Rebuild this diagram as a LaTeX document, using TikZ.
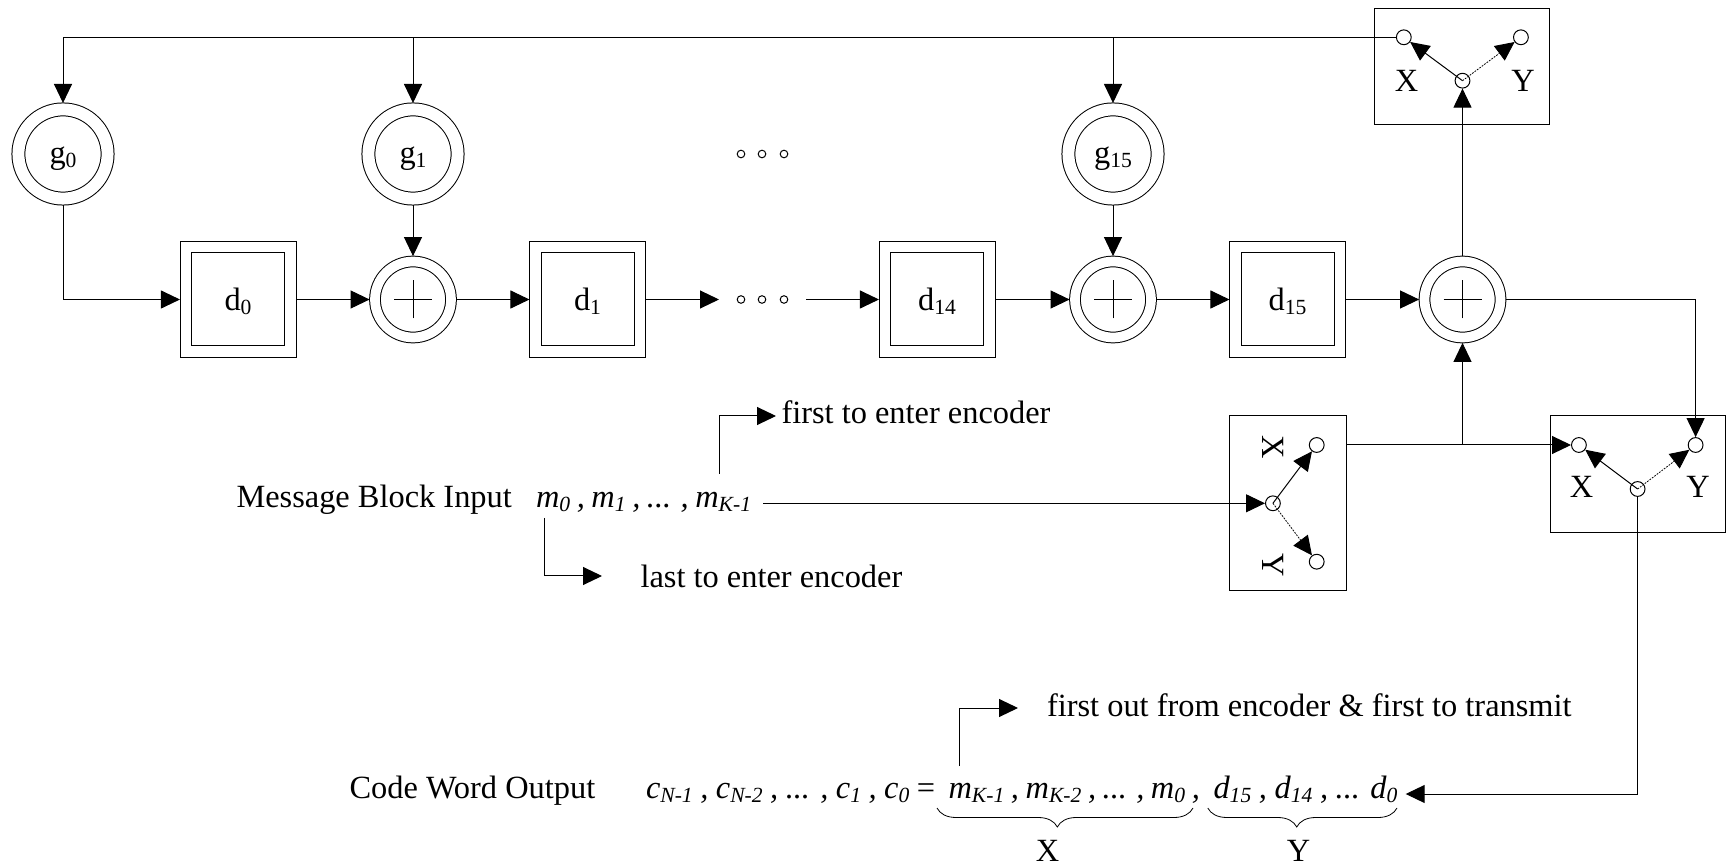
\documentclass[tikz,border=0pt]{standalone}
\usepackage{xcolor}
\usepackage{fontspec}
\setmainfont{Liberation Serif}
\usepackage{tikz}
\usetikzlibrary{arrows.meta, positioning, decorations.pathreplacing}

\newcommand{\idx}[1]{\raisebox{-0.3ex}{\fontsize{10.8}{12}\selectfont #1}}

\begin{document}
\begin{tikzpicture}[
        x=0.5pt, y=-0.5pt,
        line width=0.5pt,
        every node/.style={font=\fontsize{16.2}{19}\selectfont, inner sep=0pt},
        tapnode/.style={circle, draw, double, double distance=5.95pt, outer sep=3.2pt, minimum size=44.6pt, text height=9.5pt, text depth=0pt},
        addnode/.style={circle, draw, double, double distance=4.85pt, outer sep=2.7pt, minimum size=38pt},
        regnode/.style={rectangle, draw, double, double distance=5.25pt, outer sep=2.9pt, minimum size=52.25pt, text height=10.7pt, text depth=0pt},
        pole/.style={circle, draw, minimum size=7.4pt},
        dotmark/.style={circle, draw, minimum size=3.8pt},
        edge/.style={-{Triangle[length=9.5pt, width=9pt]}},
        dottededge/.style={edge, dash pattern=on 0.9pt off 0.6pt, line width=0.4pt},
        caption/.style={anchor=base west},
        bracemark/.style={decorate, decoration={brace, mirror, amplitude=9.5pt, aspect=0.47}, line width=0.4pt}
    ]
        \useasboundingbox (0,0) rectangle (1729,865);

        % Taps
        \node[tapnode] (g0) at (63, 154) {g\idx{0}};
        \node[tapnode] (g1) at (413, 154) {g\idx{1}};
        \node[tapnode] (g15) at (1113, 154) {g\idx{15}};

        % Registers and adders
        \node[regnode] (d0) at (238, 299.5) {d\idx{0}};
        \node[addnode] (add1) at (413, 299.5) {};
        \node[regnode] (d1) at (587.5, 299.5) {d\idx{1}};
        \node[regnode] (d14) at (937, 299.5) {d\idx{14}};
        \node[addnode] (add2) at (1113, 299.5) {};
        \node[regnode] (d15) at (1287.5, 299.5) {d\idx{15}};
        \node[addnode] (add3) at (1462.5, 299.5) {};

        \foreach \a in {add1, add2, add3} {
            \draw[line width=0.4pt] ([xshift=-9.5pt]\a.center) -- ([xshift=9.5pt]\a.center);
            \draw[line width=0.4pt] ([yshift=-9.5pt]\a.center) -- ([yshift=9.5pt]\a.center);
        }

        % Dots
        \node[dotmark] (dotA) at (741, 154) {};
        \node[dotmark] (dotB) at (762, 154) {};
        \node[dotmark] (dotC) at (784, 154) {};
        \node[dotmark] (dotD) at (741, 299.5) {};
        \node[dotmark] (dotE) at (762, 299.5) {};
        \node[dotmark] (dotF) at (784, 299.5) {};
        \coordinate (dotsIn) at (719, 299.5);
        \coordinate (dotsOut) at (806, 299.5);

        % Top switch
        \node[draw, minimum width=87.5pt, minimum height=58.2pt] (swT) at (1462.4, 66.5) {};
        \node[pole] (swTx) at (1403.8, 37.3) {};
        \node[pole] (swTy) at (1520.9, 37.3) {};
        \node[pole] (swTc) at (1462.5, 80.7) {};
        \node[anchor=base] (swTxl) at (1406.5, 91.5) {X};
        \node[anchor=base] (swTyl) at (1523, 91.5) {Y};

        % Left switch
        \node[draw, minimum width=58.3pt, minimum height=87.5pt] (swL) at (1287.7, 503.5) {};
        \node[pole] (swLx) at (1316.7, 445) {};
        \node[pole] (swLy) at (1316.7, 561.7) {};
        \node[pole] (swLc) at (1272.9, 503.3) {};
        \node[rotate=-90] (swLxl) at (1273.5, 447.5) {X};
        \node[rotate=-90] (swLyl) at (1273.5, 565) {Y};

        % Right switch
        \node[draw, minimum width=87.5pt, minimum height=58.3pt] (swR) at (1637.5, 474.3) {};
        \node[pole] (swRx) at (1578.9, 445) {};
        \node[pole] (swRy) at (1695.6, 445) {};
        \node[pole] (swRc) at (1637.6, 489) {};
        \node[anchor=base] (swRxl) at (1581.5, 498) {X};
        \node[anchor=base] (swRyl) at (1698, 498) {Y};

        % Texts
        \node[caption] (msgLabel) at (236, 507.5) {Message Block Input};
        \node[caption] (msgSeq) at (535.5, 507.5) {\itshape\spaceskip=3.3pt m\idx{0} , m\idx{1} , ... , m\idx{K-1}};
        \node[caption] (firstIn) at (781, 424) {first to enter encoder};
        \node[caption] (lastIn) at (640, 587.5) {last to enter encoder};
        \node[caption] (codeLabel) at (349, 798) {Code Word Output};
        \node[caption] (codeSeq) at (645.5, 798) {\itshape\spaceskip=3.75pt c\idx{N-1} , c\idx{N-2} , ... , c\idx{1} , c\idx{0} {\upshape =}};
        \node[caption] (codeMsg) at (948, 798) {\itshape\spaceskip=3.3pt m\idx{K-1} , m\idx{K-2} , ... , m\idx{0} ,};
        \node[caption] (codeRed) at (1213, 798) {\itshape\spaceskip=3.8pt d\idx{15} , d\idx{14} , ... d\idx{0}};
        \node[caption] (firstOut) at (1046.5, 716) {first out from encoder \& first to transmit};
        \node[anchor=base] (xLabel) at (1047.5, 861.7) {X};
        \node[anchor=base] (yLabel) at (1298.6, 861.7) {Y};

        % Free ends
        \coordinate (firstFrom) at (719, 474);
        \coordinate (firstTo) at (776, 416);
        \coordinate (lastFrom) at (544, 518);
        \coordinate (lastTo) at (602, 576);
        \coordinate (msgEnd) at (763, 503.3);
        \coordinate (outFrom) at (959, 766);
        \coordinate (outTo) at (1018, 708);
        \coordinate (codeEnd) at (1405.7, 794);
        \coordinate (braceXa) at (937, 808);
        \coordinate (braceXb) at (1193, 808);
        \coordinate (braceYa) at (1207.8, 808);
        \coordinate (braceYb) at (1397, 808);

        % Edges
        \draw[edge] (swTx) -| (g0);
        \draw[edge] (g1 |- swTx) -- (g1);
        \draw[edge] (g15 |- swTx) -- (g15);
        \draw[edge] (g0) |- (d0);
        \draw[edge] (d0) -- (add1);
        \draw[edge] (g1) -- (add1);
        \draw[edge] (add1) -- (d1);
        \draw[edge] (d1) -- (dotsIn);
        \draw[edge] (dotsOut) -- (d14);
        \draw[edge] (d14) -- (add2);
        \draw[edge] (g15) -- (add2);
        \draw[edge] (add2) -- (d15);
        \draw[edge] (d15) -- (add3);
        \draw[edge] (add3) -- (swTc);
        \draw[edge] (add3) -| (swRy);
        \draw[edge] (swL.east |- swLx) -- (swRx);
        \draw[edge] (add3 |- swLx) -- (add3);
        \draw[edge] (swRc) |- (codeEnd);
        \draw[edge] (msgEnd) -- (swLc);
        \draw[edge] (firstFrom) |- (firstTo);
        \draw[edge] (lastFrom) |- (lastTo);
        \draw[edge] (outFrom) |- (outTo);

        % Switch arms
        \draw[edge] (swTc.center) -- (swTx);
        \draw[dottededge] (swTc.center) -- (swTy);
        \draw[edge] (swLc.center) -- (swLx);
        \draw[dottededge] (swLc.center) -- (swLy);
        \draw[edge] (swRc.center) -- (swRx);
        \draw[dottededge] (swRc.center) -- (swRy);

        % Braces
        \draw[bracemark] (braceXa) -- (braceXb);
        \draw[bracemark] (braceYa) -- (braceYb);

    \end{tikzpicture}
\end{document}
